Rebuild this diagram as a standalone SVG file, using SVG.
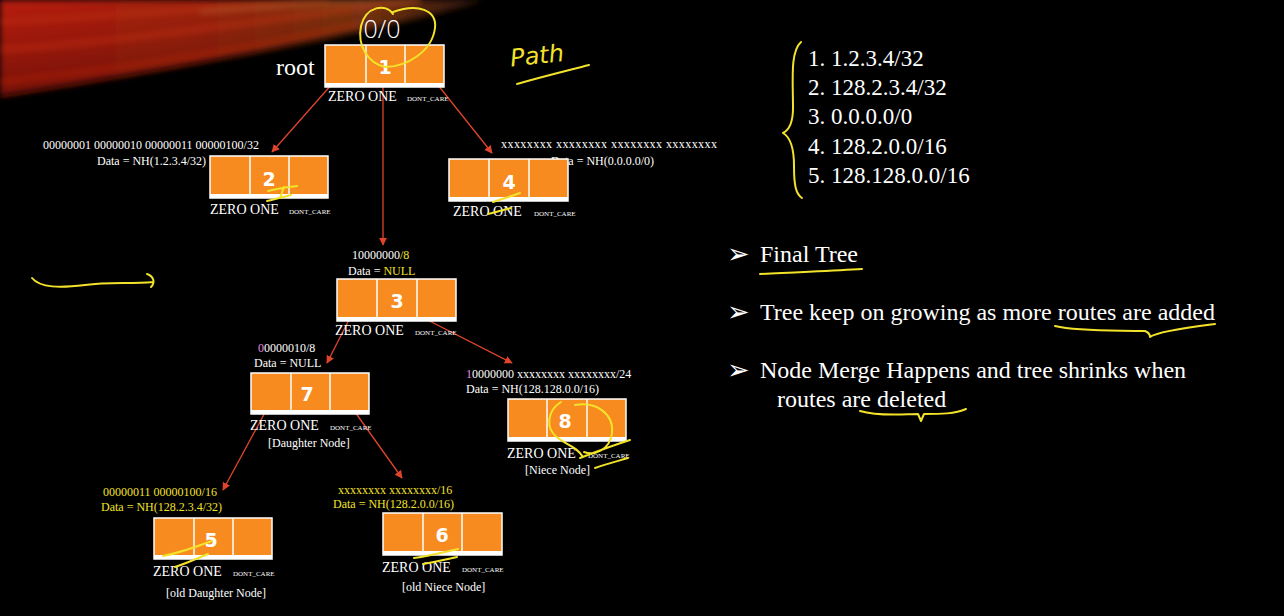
<svg xmlns="http://www.w3.org/2000/svg" width="1284" height="616" viewBox="0 0 1284 616">
  <defs>
    <linearGradient id="streak" x1="0" y1="0" x2="1" y2="0">
      <stop offset="0" stop-color="#b81c08"/>
      <stop offset="0.4" stop-color="#a3220b"/>
      <stop offset="0.75" stop-color="#7a3412"/>
      <stop offset="1" stop-color="#2a140a"/>
    </linearGradient>
    <linearGradient id="fade" x1="0" y1="0" x2="0" y2="1">
      <stop offset="0" stop-color="#000000" stop-opacity="0"/>
      <stop offset="1" stop-color="#000000" stop-opacity="0.35"/>
    </linearGradient>
    <filter id="soft" x="-10%" y="-50%" width="120%" height="200%">
      <feGaussianBlur stdDeviation="3"/>
    </filter>
    <marker id="head" viewBox="0 0 10 10" refX="9" refY="5" markerWidth="8" markerHeight="8" markerUnits="userSpaceOnUse" orient="auto-start-reverse">
      <path d="M0,0 L10,5 L0,10 Z" fill="#e0452b"/>
    </marker>
    <style>
      .cell { fill: #f78b1f; stroke: #ffffff; stroke-width: 1.5; }
      .strip { fill: #ffffff; }
      .div { stroke: #ffffff; stroke-width: 1.5; }
      .num { font-family: "DejaVu Sans", "Liberation Sans", sans-serif; font-weight: bold; font-size: 19px; fill: #ffffff; text-anchor: middle; }
      .t { font-family: "Liberation Serif", "DejaVu Serif", serif; fill: #ffffff; }
      .zo { font-size: 14px; }
      .dc { font-size: 7px; }
      .lbl { font-size: 12px; }
      .y { fill: #f3e22a; }
      .p { fill: #e58be0; }
      .big { font-size: 23px; }
      .bul { font-size: 24px; }
      .mark { font-family: "DejaVu Sans", sans-serif; font-size: 27px; fill: #ffffff; }
      .link { stroke: #e0452b; stroke-width: 1.3; fill: none; marker-start: url(#head); marker-end: url(#head); }
      .ink { stroke: #f3e22a; stroke-width: 2; fill: none; stroke-linecap: round; stroke-linejoin: round; }
    </style>
  </defs>

  <!-- backdrop -->
  <rect width="1284" height="616" fill="#000000"/>
  <g id="backdrop-streak">
    <path d="M0,0 H485 C430,18 260,56 0,96 Z" fill="url(#streak)" filter="url(#soft)"/>
    <path d="M0,0 H485 C430,18 260,56 0,96 Z" fill="url(#fade)"/>
    <path d="M0,22 C120,16 250,6 330,0" stroke="#e0501e" stroke-width="4" fill="none" opacity="0.3" filter="url(#soft)"/>
    <path d="M0,50 C140,40 280,18 420,0" stroke="#e83c14" stroke-width="5" fill="none" opacity="0.35" filter="url(#soft)"/>
    <path d="M0,82 C130,68 260,46 360,24" stroke="#e02a0c" stroke-width="3" fill="none" opacity="0.5" filter="url(#soft)"/>
    <path d="M200,12 C280,6 350,2 420,0" stroke="#b8703a" stroke-width="6" fill="none" opacity="0.3" filter="url(#soft)"/>
  </g>

  <!-- connectors -->
  <g id="connectors">
    <line class="link" x1="340" y1="75" x2="272" y2="152"/>
    <line class="link" x1="383" y1="67" x2="383" y2="245"/>
    <line class="link" x1="430" y1="75" x2="492" y2="153"/>
    <line class="link" x1="355" y1="308" x2="327" y2="363"/>
    <line class="link" x1="402" y1="307" x2="512" y2="363"/>
    <line class="link" x1="268" y1="407" x2="223" y2="490"/>
    <line class="link" x1="350" y1="405" x2="402" y2="478"/>
  </g>

  <!-- root -->
  <g id="node-1">
    <text class="t" x="276" y="75" style="font-size:24px">root</text>
    <rect class="cell" x="325" y="45" width="119" height="42"/>
    <rect class="strip" x="325" y="83" width="119" height="4"/>
    <line class="div" x1="366" y1="45" x2="366" y2="83"/>
    <line class="div" x1="405" y1="45" x2="405" y2="83"/>
    <text class="num" x="385" y="74">1</text>
    <text x="382" y="38" style="font-family:'Open Sans','DejaVu Sans',sans-serif;font-weight:300;font-size:25px;fill:#ffffff;text-anchor:middle">0/0</text>
    <text class="t zo" x="328" y="101">ZERO ONE</text>
    <text class="t dc" x="407" y="101">DONT_CARE</text>
  </g>

  <g id="node-2">
    <text class="t lbl" x="43" y="149">00000001 00000010 00000011 00000100/32</text>
    <text class="t lbl" x="97" y="165">Data = NH(1.2.3.4/32)</text>
    <rect class="cell" x="210" y="156" width="118" height="42"/>
    <rect class="strip" x="210" y="194" width="118" height="4"/>
    <line class="div" x1="250" y1="156" x2="250" y2="194"/>
    <line class="div" x1="289" y1="156" x2="289" y2="194"/>
    <text class="num" x="269" y="186">2</text>
    <text class="t zo" x="210" y="214">ZERO ONE</text>
    <text class="t dc" x="289" y="214">DONT_CARE</text>
  </g>

  <g id="node-4">
    <text class="t lbl" x="501" y="148" textLength="216" lengthAdjust="spacing">xxxxxxxx  xxxxxxxx  xxxxxxxx  xxxxxxxx</text>
    <text class="t lbl" x="551" y="165">Data = NH(0.0.0.0/0)</text>
    <rect class="cell" x="449" y="159" width="119" height="42"/>
    <rect class="strip" x="449" y="197" width="119" height="4"/>
    <line class="div" x1="489" y1="159" x2="489" y2="197"/>
    <line class="div" x1="529" y1="159" x2="529" y2="197"/>
    <text class="num" x="509" y="189">4</text>
    <text class="t zo" x="453" y="216">ZERO ONE</text>
    <text class="t dc" x="534" y="216">DONT_CARE</text>
  </g>

  <g id="node-3">
    <text class="t lbl" x="352" y="259">10000000<tspan class="y">/8</tspan></text>
    <text class="t lbl" x="348" y="275">Data = <tspan class="y">NULL</tspan></text>
    <rect class="cell" x="337" y="279" width="119" height="42"/>
    <rect class="strip" x="337" y="317" width="119" height="4"/>
    <line class="div" x1="377" y1="279" x2="377" y2="317"/>
    <line class="div" x1="417" y1="279" x2="417" y2="317"/>
    <text class="num" x="397" y="308">3</text>
    <text class="t zo" x="335" y="335">ZERO ONE</text>
    <text class="t dc" x="415" y="335">DONT_CARE</text>
  </g>

  <g id="node-7">
    <text class="t lbl" x="258" y="352"><tspan class="p">0</tspan>0000010/8</text>
    <text class="t lbl" x="254" y="367">Data = NULL</text>
    <rect class="cell" x="251" y="373" width="118" height="41"/>
    <rect class="strip" x="251" y="410" width="118" height="4"/>
    <line class="div" x1="291" y1="373" x2="291" y2="410"/>
    <line class="div" x1="330" y1="373" x2="330" y2="410"/>
    <text class="num" x="307" y="401">7</text>
    <text class="t zo" x="250" y="430">ZERO ONE</text>
    <text class="t dc" x="330" y="430">DONT_CARE</text>
    <text class="t lbl" x="268" y="447">[Daughter Node]</text>
  </g>

  <g id="node-8">
    <text class="t lbl" x="466" y="378"><tspan class="p">1</tspan>0000000 xxxxxxxx xxxxxxxx/24</text>
    <text class="t lbl" x="466" y="393">Data = NH(128.128.0.0/16)</text>
    <rect class="cell" x="508" y="399" width="118" height="42"/>
    <rect class="strip" x="508" y="437" width="118" height="4"/>
    <line class="div" x1="547" y1="399" x2="547" y2="437"/>
    <line class="div" x1="587" y1="399" x2="587" y2="437"/>
    <text class="num" x="565" y="428">8</text>
    <text class="t zo" x="507" y="458">ZERO ONE</text>
    <text class="t dc" x="588" y="458">DONT_CARE</text>
    <text class="t lbl" x="525" y="474">[Niece Node]</text>
  </g>

  <g id="node-5">
    <text class="t lbl y" x="103" y="496">00000011 00000100/16</text>
    <text class="t lbl y" x="101" y="511">Data = NH(128.2.3.4/32)</text>
    <rect class="cell" x="154" y="518" width="118" height="41"/>
    <rect class="strip" x="154" y="555" width="118" height="4"/>
    <line class="div" x1="194" y1="518" x2="194" y2="555"/>
    <line class="div" x1="233" y1="518" x2="233" y2="555"/>
    <text class="num" x="211" y="547">5</text>
    <text class="t zo" x="153" y="576">ZERO ONE</text>
    <text class="t dc" x="233" y="576">DONT_CARE</text>
    <text class="t lbl" x="166" y="597">[old Daughter Node]</text>
  </g>

  <g id="node-6">
    <text class="t lbl y" x="338" y="494">xxxxxxxx xxxxxxxx/16</text>
    <text class="t lbl y" x="333" y="508">Data = NH(128.2.0.0/16)</text>
    <rect class="cell" x="383" y="513" width="119" height="42"/>
    <rect class="strip" x="383" y="551" width="119" height="4"/>
    <line class="div" x1="423" y1="513" x2="423" y2="551"/>
    <line class="div" x1="462" y1="513" x2="462" y2="551"/>
    <text class="num" x="442" y="542">6</text>
    <text class="t zo" x="382" y="572">ZERO ONE</text>
    <text class="t dc" x="462" y="572">DONT_CARE</text>
    <text class="t lbl" x="402" y="591">[old Niece Node]</text>
  </g>

  <!-- route list -->
  <g id="route-list">
    <text class="t big" x="808" y="66">1. 1.2.3.4/32</text>
    <text class="t big" x="808" y="95">2. 128.2.3.4/32</text>
    <text class="t big" x="808" y="124">3. 0.0.0.0/0</text>
    <text class="t big" x="808" y="154">4. 128.2.0.0/16</text>
    <text class="t big" x="808" y="183">5. 128.128.0.0/16</text>
  </g>

  <!-- notes -->
  <g id="notes">
    <text class="mark" x="727" y="263">➢</text>
    <text class="t bul" x="760" y="262">Final Tree</text>
    <text class="mark" x="727" y="321">➢</text>
    <text class="t bul" x="760" y="320">Tree keep on growing as more routes are added</text>
    <text class="mark" x="727" y="379">➢</text>
    <text class="t bul" x="760" y="378">Node Merge Happens and tree shrinks when</text>
    <text class="t bul" x="777" y="407">routes are deleted</text>
  </g>

  <!-- hand-drawn marks -->
  <g id="ink">
    <path class="ink" d="M393,14 C386,3 366,6 361,26 C357,46 368,63 385,67 C406,67 432,52 435,28 C437,10 418,3 393,12"/>
    <text x="510" y="64" transform="rotate(-6 535 55)" style="font-family:'DejaVu Sans',sans-serif;font-style:italic;font-size:24px;fill:#f3e22a">Path</text>
    <path class="ink" d="M517,84 C545,76 570,70 589,65"/>
    <path class="ink" d="M32,278 C40,288 60,288 85,285 C110,282 130,284 153,282 M147,274 C153,276 156,282 151,287"/>
    <path class="ink" d="M268,191 C278,188 288,187 297,186 M267,201 C275,199 284,197 291,195 M284,187 L280,198"/>
    <path class="ink" d="M493,202 C502,199 512,196 520,193 M488,214 C496,212 503,210 511,208"/>
    <path class="ink" d="M163,556 C180,553 198,546 212,541 M175,567 C187,563 198,558 208,554"/>
    <path class="ink" d="M414,558 C430,556 445,552 458,549 M423,564 C435,562 447,559 457,557"/>
    <path class="ink" d="M575,405 C596,401 614,414 612,433 C610,450 594,456 584,452 M561,402 C548,410 544,428 558,438 C568,446 576,446 583,457 M580,458 C598,451 614,445 630,440 M595,468 C607,464 618,461 628,458"/>
    <path class="ink" d="M801,42 C790,52 793,80 793,108 C793,124 789,130 783,133 C790,137 794,146 794,166 C794,186 796,194 802,198"/>
    <path class="ink" d="M760,274 C795,272 830,271 862,269"/>
    <path class="ink" d="M1055,326 C1080,332 1120,330 1145,331 C1150,333 1150,336 1150,337 C1155,333 1175,329 1215,324"/>
    <path class="ink" d="M860,411 C880,417 905,414 918,414 L921,421 L924,414 C940,414 955,414 966,409"/>
  </g>
</svg>
